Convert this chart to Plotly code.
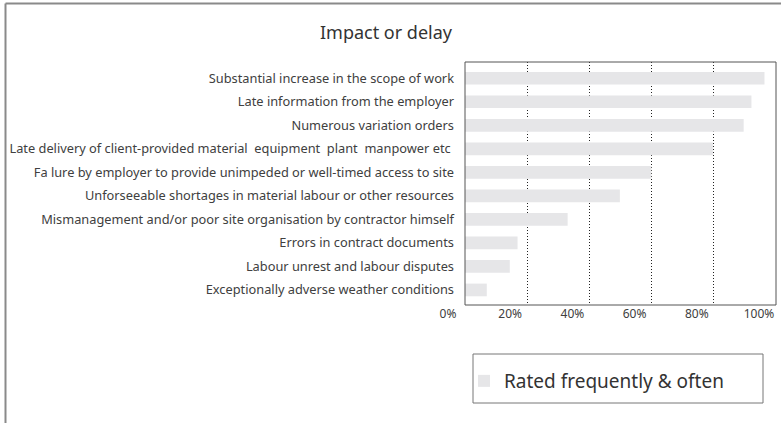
import plotly.graph_objects as go

categories = [
    "Substantial increase in the scope of work",
    "Late information from the employer",
    "Numerous variation orders",
    "Late delivery of client-provided material  equipment  plant  manpower etc ",
    "Fa lure by employer to provide unimpeded or well-timed access to site",
    "Unforseeable shortages in material labour or other resources",
    "Mismanagement and/or poor site organisation by contractor himself",
    "Errors in contract documents",
    "Labour unrest and labour disputes",
    "Exceptionally adverse weather conditions",
]
values = [0.963, 0.921, 0.896, 0.797, 0.599, 0.498, 0.33, 0.169, 0.144, 0.07]
series_name = "Rated frequently & often"
tick_vals = [0, 0.2, 0.4, 0.6, 0.8, 1.0]
tick_text = ["0%", "20%", "40%", "60%", "80%", "100%"]

W, H = 781, 423
ML, MR, MT, MB = 465, 5, 62, 118
PW, PH = W - ML - MR, H - MT - MB

def px_x(x):
    return (x - ML) / PW

def px_y(y):
    return (H - MB - y) / PH

FONT = "Noto Sans"

fig = go.Figure()
fig.add_trace(go.Bar(
    x=values, y=categories, orientation="h",
    marker=dict(color="#e6e6e8", line=dict(width=0)),
    name=series_name, showlegend=True,
))

fig.update_layout(
    width=W, height=H,
    margin=dict(l=ML, r=MR, t=MT, b=MB),
    paper_bgcolor="white", plot_bgcolor="white",
    bargap=0.46,
    title=dict(text="Impact or delay", xref="container", x=386 / W, xanchor="center",
               yref="container", y=1 - 33 / H, yanchor="middle",
               font=dict(family=FONT, size=18, color="#333333")),
    font=dict(family=FONT, color="#404040"),
    showlegend=True,
    legend=dict(x=px_x(464), y=px_y(362), xanchor="left", yanchor="top",
                bgcolor="rgba(0,0,0,0)", borderwidth=0,
                font=dict(family=FONT, size=19, color="#333333")),
    xaxis=dict(range=[0, 1.0], tickvals=tick_vals, ticktext=tick_text,
               showgrid=True, gridcolor="#222222", griddash="1px,2px", gridwidth=1,
               showline=False, zeroline=False, ticks="",
               ticklabelshift=-17,
               tickfont=dict(family=FONT, size=12, color="#404040")),
    yaxis=dict(range=[9.64, -0.69], showgrid=False, showline=False,
               zeroline=False, ticks="", ticklabelstandoff=10,
               tickfont=dict(family=FONT, size=12.8, color="#404040")),
)

shapes = []
# plot area border
shapes.append(dict(type="rect", xref="paper", yref="paper", x0=0, x1=1, y0=0, y1=1,
                   line=dict(color="#555555", width=1), layer="above"))
# legend box
shapes.append(dict(type="rect", xref="paper", yref="paper",
                   x0=px_x(473), x1=px_x(763), y0=px_y(403), y1=px_y(354),
                   line=dict(color="#777777", width=1)))
# outer frame (left and top)
shapes.append(dict(type="line", xref="paper", yref="paper",
                   x0=px_x(5.5), x1=px_x(5.5), y0=px_y(423), y1=px_y(3.5),
                   line=dict(color="#8a8a8a", width=2)))
shapes.append(dict(type="line", xref="paper", yref="paper",
                   x0=px_x(5.5), x1=px_x(781), y0=px_y(3.5), y1=px_y(3.5),
                   line=dict(color="#8a8a8a", width=2)))
fig.update_layout(shapes=shapes)

fig.write_html("out.html", config={"displayModeBar": False},
               post_script="document.body.style.margin='0px';document.body.style.overflow='hidden';")
